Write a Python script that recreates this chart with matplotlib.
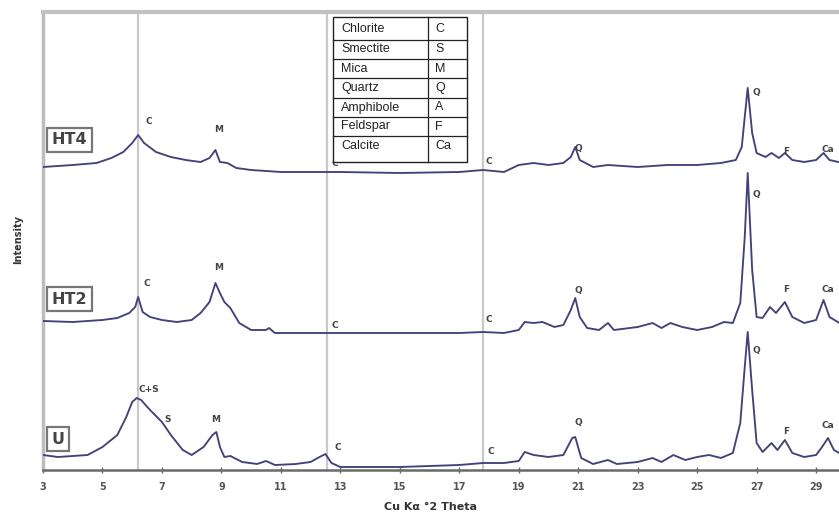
import matplotlib
matplotlib.use("Agg")
import matplotlib.pyplot as plt
from matplotlib.patches import Rectangle

# ---------------- data (2-theta in degrees, intensity in arbitrary units) ----------------
u_x = [3.0, 3.5, 4.0, 4.5, 5.0, 5.5, 5.8, 6.0, 6.15, 6.3, 6.6, 7.0, 7.3, 7.7, 8.0, 8.4, 8.7, 8.83,
       8.95, 9.1, 9.3, 9.7, 10.2, 10.5, 10.8, 11.5, 12.0, 12.3, 12.5, 12.7, 13.0, 14.0, 15.0, 16.0,
       17.0, 17.8, 18.5, 19.0, 19.2, 19.5, 20.0, 20.5, 20.8, 20.9, 21.1, 21.5, 22.0, 22.3, 23.0,
       23.5, 23.8, 24.2, 24.6, 25.0, 25.4, 25.8, 26.2, 26.45, 26.6, 26.7, 26.85, 27.0, 27.2, 27.5,
       27.7, 27.95, 28.2, 28.6, 29.0, 29.2, 29.4, 29.6, 29.9]
u_y = [15, 13, 14, 15, 23, 35, 53, 68, 72, 70, 60, 48, 35, 20, 15, 23, 35, 38,
       23, 13, 14, 8, 6, 9, 5, 6, 8, 13, 16, 7, 3, 3, 3, 4,
       5, 7, 7, 9, 18, 15, 13, 15, 32, 33, 12, 6, 10, 6, 8,
       12, 8, 15, 10, 13, 15, 12, 17, 47, 103, 138, 80, 27, 18, 27,
       20, 30, 17, 13, 15, 23, 32, 20, 15]

ht2_x = [3.0, 4.0, 5.0, 5.5, 5.9, 6.1, 6.2, 6.35, 6.6, 7.0, 7.5, 8.0, 8.3, 8.6, 8.8, 8.95, 9.1, 9.3,
         9.6, 10.0, 10.5, 10.6, 10.8, 12.0, 12.5, 13.0, 14.0, 15.0, 17.0, 17.8, 18.5, 19.0, 19.2,
         19.5, 19.8, 20.2, 20.5, 20.75, 20.9, 21.05, 21.3, 21.7, 22.0, 22.2, 23.0, 23.5, 23.8, 24.1,
         24.5, 25.0, 25.5, 25.9, 26.2, 26.45, 26.6, 26.7, 26.85, 27.0, 27.2, 27.45, 27.65, 27.95,
         28.2, 28.6, 29.0, 29.25, 29.45, 29.9]
ht2_y = [149, 148, 150, 152, 157, 163, 173, 158, 153, 150, 148, 150, 157, 168, 187, 177, 168, 162,
         147, 140, 140, 142, 137, 137, 137, 137, 137, 137, 137, 138, 137, 140, 148,
         147, 148, 143, 145, 160, 172, 153, 142, 140, 147, 140, 143, 147, 142, 147,
         143, 140, 143, 148, 147, 167, 233, 297, 200, 153, 152, 163, 157, 168,
         153, 147, 150, 170, 153, 145]

ht4_x = [3.0, 4.0, 4.8, 5.3, 5.7, 6.0, 6.2, 6.4, 6.8, 7.3, 7.8, 8.3, 8.6, 8.8, 8.95, 9.2, 9.5, 10.0,
         11.0, 12.0, 13.0, 15.0, 17.0, 17.8, 18.5, 19.0, 19.5, 20.0, 20.5, 20.75, 20.9, 21.05, 21.5,
         22.0, 23.0, 24.0, 25.0, 25.8, 26.3, 26.5, 26.6, 26.7, 26.85, 27.0, 27.3, 27.5, 27.75, 27.95,
         28.2, 28.6, 29.0, 29.25, 29.45, 29.9]
ht4_y = [303, 305, 307, 312, 318, 327, 335, 327, 318, 313, 310, 308, 312, 320, 308, 307, 302, 300,
         298, 298, 298, 297, 298, 300, 298, 305, 307, 305, 307, 313, 323, 310, 303,
         305, 303, 305, 305, 307, 310, 323, 353, 382, 337, 317, 313, 317, 312, 317,
         310, 308, 310, 317, 310, 307]

sample_names = ["HT4", "HT2", "U"]
sample_label_y = [330, 171, 31]

ref_lines = [6.2, 12.55, 17.8]

legend_minerals = ["Chlorite", "Smectite", "Mica", "Quartz", "Amphibole", "Feldspar", "Calcite"]
legend_codes = ["C", "S", "M", "Q", "A", "F", "Ca"]

# peak annotations: (text, x, y)
peak_labels = [
    ("C", 6.55, 348), ("M", 8.9, 340), ("C", 12.8, 307), ("C", 18.0, 308),
    ("Q", 21.0, 322), ("Q", 27.0, 378), ("F", 28.0, 318), ("Ca", 29.4, 320),
    ("C", 6.5, 187), ("M", 8.9, 202), ("C", 12.8, 145), ("C", 18.0, 150),
    ("Q", 21.0, 180), ("Q", 27.0, 275), ("F", 28.0, 180), ("Ca", 29.4, 180),
    ("C+S", 6.55, 80), ("S", 7.2, 50), ("M", 8.8, 50), ("C", 12.9, 23), ("C", 18.05, 18),
    ("Q", 21.0, 48), ("Q", 27.0, 120), ("F", 28.0, 38), ("Ca", 29.4, 45),
]

# ---------------- figure ----------------
W, H = 839, 526
fig = plt.figure(figsize=(W / 100, H / 100), dpi=100)
ax = fig.add_axes([43 / W, 1 - 470 / H, (W - 43) / W, (470 - 12) / H])
ax.set_xlim(3, 29.77)
ax.set_ylim(0, 458)

for xv in ref_lines:
    ax.axvline(xv, color="#c9c9c9", lw=1.6, zorder=1)

line_color = "#42427a"
for xs, ys in [(u_x, u_y), (ht2_x, ht2_y), (ht4_x, ht4_y)]:
    ax.plot(xs, ys, color=line_color, lw=1.35, zorder=3, solid_joinstyle="round")

for txt, xv, yv in peak_labels:
    ax.text(xv, yv, txt, fontsize=6.5, fontweight="bold", color="#444444",
            ha="center", va="center", zorder=4)

for name, yv in zip(sample_names, sample_label_y):
    ax.text(3.3, yv, name, fontsize=11.5, fontweight="bold", color="#444444",
            ha="left", va="center", zorder=5,
            bbox=dict(boxstyle="square,pad=0.28", fc="white", ec="#777777", lw=1.6))

# spines
ax.spines["right"].set_visible(False)
ax.spines["top"].set_color("#c2c2c2")
ax.spines["top"].set_linewidth(3)
ax.spines["left"].set_color("#bdbdbd")
ax.spines["left"].set_linewidth(2.5)
ax.spines["bottom"].set_color("#6a6a6a")
ax.spines["bottom"].set_linewidth(1.8)

ticks = list(range(3, 30, 2))
ax.set_xticks(ticks)
ax.set_xticklabels([str(t) for t in ticks], fontsize=7, fontweight="bold", color="#555555")
ax.tick_params(axis="x", direction="inout", length=5, width=1, color="#6a6a6a", pad=6)
ax.set_yticks([])

fig.text(430 / W, 1 - 507 / H, "Cu K\u03b1 \u00b02 Theta", fontsize=8, fontweight="bold",
         color="#333333", ha="center", va="center")
fig.text(18 / W, 1 - 240 / H, "Intensity", fontsize=7, fontweight="bold", color="#333333",
         rotation=90, ha="center", va="center")

# legend table (in pixel coordinates via figure transform)
def fx(px):
    return px / W

def fy(py):
    return 1 - py / H

tx0, tx1, tdiv = 333, 467, 428
row_edges = [17, 40, 59, 78, 98, 117, 136, 162]
fig.patches.append(Rectangle((fx(tx0), fy(row_edges[-1])), fx(tx1) - fx(tx0),
                             fy(row_edges[0]) - fy(row_edges[-1]), transform=fig.transFigure,
                             fc="white", ec="#222222", lw=1.0, zorder=10))
for ry in row_edges[1:-1]:
    fig.add_artist(plt.Line2D([fx(tx0), fx(tx1)], [fy(ry), fy(ry)], transform=fig.transFigure,
                              color="#222222", lw=0.9, zorder=11))
fig.add_artist(plt.Line2D([fx(tdiv), fx(tdiv)], [fy(row_edges[0]), fy(row_edges[-1])],
                          transform=fig.transFigure, color="#222222", lw=0.9, zorder=11))
for i, (m, c) in enumerate(zip(legend_minerals, legend_codes)):
    cy = (row_edges[i] + row_edges[i + 1]) / 2 if i < 6 else row_edges[i] + 10
    fig.text(fx(tx0 + 8), fy(cy), m, fontsize=9, family="Liberation Sans", color="#222222",
             ha="left", va="center", zorder=12)
    fig.text(fx(tdiv + 7), fy(cy), c, fontsize=9, family="Liberation Sans", color="#222222",
             ha="left", va="center", zorder=12)

fig.savefig("out.png", dpi=100)
